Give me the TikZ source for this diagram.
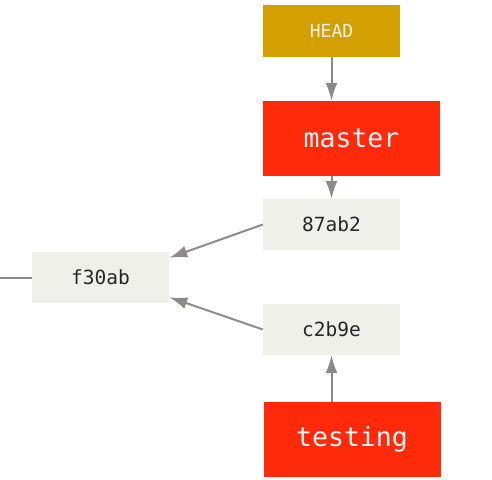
\documentclass[tikz,border=0pt]{standalone}
\usepackage{fontspec}
\setmonofont{DejaVu Sans Mono}
\usepackage{tikz}
\usepackage{xcolor}
\usetikzlibrary{arrows.meta}

\definecolor{commitgray}{HTML}{F0F0EA}
\definecolor{headgold}{HTML}{D4A000}
\definecolor{branchred}{HTML}{FF2A0A}
\definecolor{linkgray}{HTML}{8E8A87}

\tikzset{
  commit/.style={fill=commitgray,minimum width=137pt,minimum height=51pt,
    inner sep=0pt,font=\ttfamily\fontsize{19.5}{19.5}\selectfont,text=black!85},
  branch/.style={fill=branchred,minimum width=177pt,minimum height=75pt,
    inner sep=0pt,font=\ttfamily\fontsize{26.5}{26.5}\selectfont,text=white!96!black},
  headref/.style={fill=headgold,minimum width=137pt,minimum height=52pt,
    inner sep=0pt,font=\ttfamily\fontsize{18}{18}\selectfont,text=white!94!black},
  link/.style={draw=linkgray,line width=2pt,-{Latex[length=18pt,width=12pt]}}
}

\begin{document}
\begin{tikzpicture}[x=1pt,y=-1pt]
        \useasboundingbox (0,0) rectangle (492,479);
        \node[headref] (head) at (331.5,31) {HEAD};
        \node[branch] (master) at (351.5,138.5) {master};
        \node[commit] (c87ab2) at (331.5,224.5) {87ab2};
        \node[commit] (cf30ab) at (100.5,277.5) {f30ab};
        \node[commit] (cc2b9e) at (331.5,329.5) {c2b9e};
        \node[branch] (testing) at (352,439.5) {testing};
        \coordinate (older) at (0,277.5);
        \draw[link] (head.south) -- (head.south |- master.north);
        \draw[link] (c87ab2.north |- master.south) -- (c87ab2.north);
        \draw[link] (c87ab2.west) -- (cf30ab.16);
        \draw[link] (cc2b9e.west) -- (cf30ab.-16);
        \draw[link] (cc2b9e.south |- testing.north) -- (cc2b9e.south);
        \draw[linkgray,line width=2pt] (cf30ab.west) -- (older);
        \end{tikzpicture}
\end{document}
